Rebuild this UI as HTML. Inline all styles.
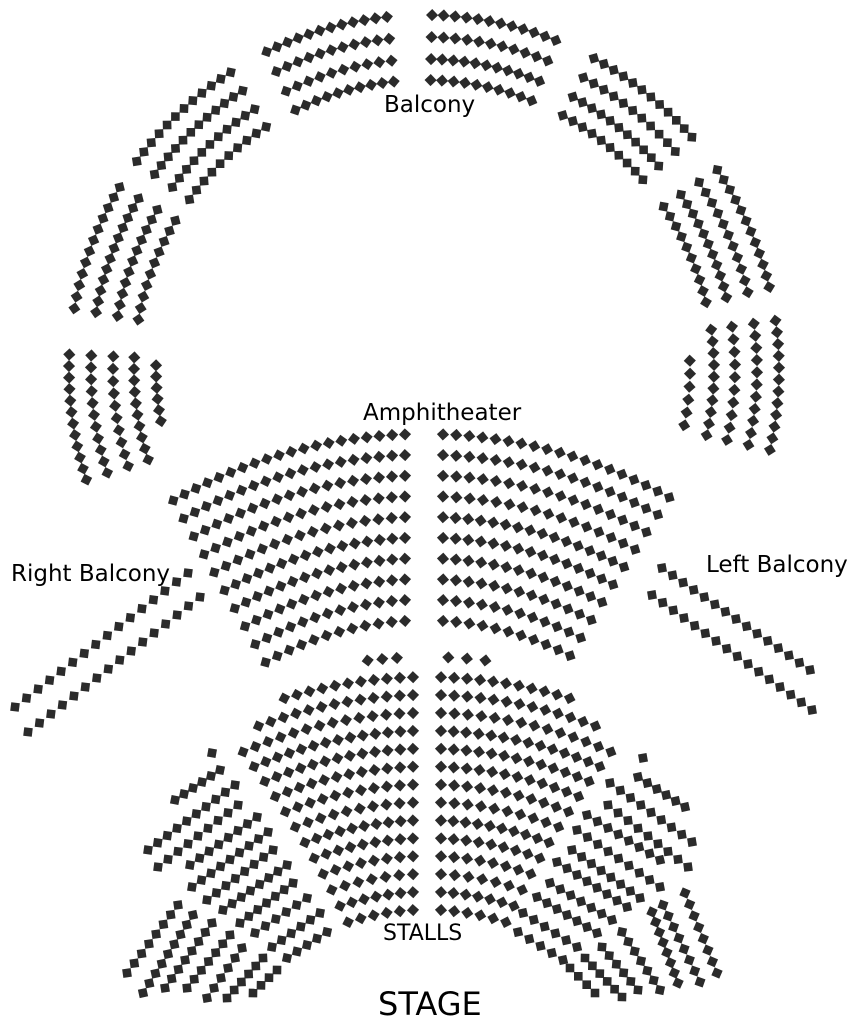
<!DOCTYPE html>
<html><head><meta charset="utf-8"><style>
html,body{margin:0;padding:0;background:#fff;}
svg{display:block;}
text{font-family:"DejaVu Sans","Liberation Sans",sans-serif;fill:#000;}
</style></head><body>
<svg id="s" xmlns="http://www.w3.org/2000/svg" width="860" height="1020" viewBox="0 0 860 1020">
<g id="seats"></g>
<text x="384" y="112" font-size="23">Balcony</text>
<text x="363" y="420" font-size="23">Amphitheater</text>
<text x="11" y="581" font-size="23">Right Balcony</text>
<text x="706" y="572" font-size="23">Left Balcony</text>
<text x="383" y="940" font-size="22">STALLS</text>
<text x="378" y="1015" font-size="32">STAGE</text>
</svg>
<script>
var g=document.getElementById('seats'),out=[];
var D=Math.PI/180;
function seat(x,y,rot){out.push('<rect x="-4.3" y="-4.3" width="8.6" height="8.6" fill="#2b2b2b" transform="translate('+x.toFixed(1)+' '+y.toFixed(1)+') rotate('+rot.toFixed(1)+')"/>');}
function arc(cx,cy,r,a0,a1,sp){var n=Math.max(1,Math.round(Math.abs(a1-a0)*D*r/sp)+1);
 for(var i=0;i<n;i++){var a=n==1?a0:a0+(a1-a0)*i/(n-1);seat(cx+r*Math.sin(a*D),cy-r*Math.cos(a*D),a+45);}}
function line(x0,y0,x1,y1,sp){var dx=x1-x0,dy=y1-y0,L=Math.sqrt(dx*dx+dy*dy),n=Math.max(1,Math.round(L/sp)+1),rot=Math.atan2(dy,dx)/D+45;
 for(var i=0;i<n;i++){var t=n==1?0:i/(n-1);seat(x0+dx*t,y0+dy*t,rot);}}
var bcx=424,bcy=370,R=[355,333,311,290];
var secs=[[-26.3,-6],[1.3,21.8],[-54,-33],[28.6,49],[-80,-59],[55.7,76.5]];
secs.forEach(function(s){R.forEach(function(r){arc(bcx,bcy,r,s[0],s[1],11.6);});});
R.forEach(function(r){arc(bcx,bcy,r,-87.5,-108,12);arc(bcx,bcy,r,82,103,12);});
arc(bcx,bcy,268,-89,-101,12);arc(bcx,bcy,266,88,102,12);
for(var i=0;i<10;i++){var r=506-20.7*i;var a=Math.asin(19/r)/D;
 arc(424,940,r,-29.7,-a,13);arc(424,940,r,a,29-0.2*i,13);}
line(15,707,188,573,14.6);line(28,732,200,597,14.6);
line(662,568,810,670,12.8);line(652,595,812,710,13.1);
for(var i=0;i<14;i++){var r=488-17.9*i;var a=Math.asin(14/r)/D;
 var e=i==0?17:(i==1?21:24-(i-2)*6/11);
 arc(427,1165,r,-e,-a,13);arc(427,1165,r,a,e,13);}
arc(427,1165,508,-6.7,-3.4,15);arc(427,1165,508,2.4,6.6,15);
seat(212,753,10);
[[175,800,220,770],[148,850,235,785],[158,867,238,805],[190,865,257,817],[192,887,268,832],[207,900,273,850],[223,910,287,865],[240,923,293,883],[255,933,307,898],[272,947,320,913],[287,958,327,932]].forEach(function(l){line(l[0],l[1],l[2],l[3],12);});
seat(643,758,80);
[[638,777,685,807],[610,783,692,842],[608,805,688,867],[587,815,660,860],[577,830,660,887],[572,850,640,898],[557,862,627,907],[550,883,612,920],[537,897,597,933],[523,913,577,947],[518,932,563,960]].forEach(function(l){line(l[0],l[1],l[2],l[3],12);});
[[127,973,178,905],[143,993,193,915],[165,988,212,923],[187,988,230,935],[207,998,242,948],[227,998,263,958],[253,993,277,970]].forEach(function(l){line(l[0],l[1],l[2],l[3],11.5);});
[[685,893,717,973],[663,905,700,982],[652,912,678,983],[622,932,660,990],[602,947,638,990],[585,958,622,997],[570,968,595,993]].forEach(function(l){line(l[0],l[1],l[2],l[3],11.5);});
g.innerHTML=out.join('');
</script>
</body></html>
